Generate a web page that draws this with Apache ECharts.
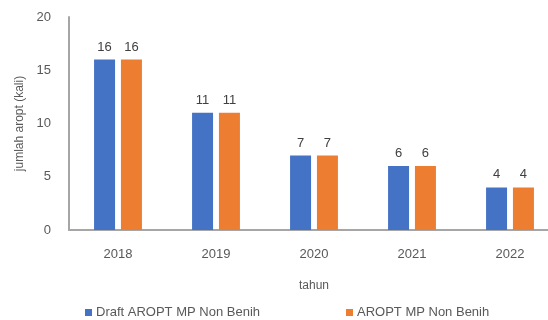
<!DOCTYPE html>
<html>
<head>
<meta charset="utf-8">
<script src="https://cdn.jsdelivr.net/npm/echarts@6/dist/echarts.min.js"></script>
<style>
  html, body { margin: 0; padding: 0; background: #ffffff; }
  #chart { width: 548px; height: 320px; }
</style>
</head>
<body>
<div id="chart"></div>
<script>
// Yearly counts of AROPT documents
const years = ['2018', '2019', '2020', '2021', '2022'];
const draftValues = [16, 11, 7, 6, 4];
const finalValues = [16, 11, 7, 6, 4];
const seriesNames = ['Draft AROPT MP Non Benih', 'AROPT MP Non Benih'];
const yTicks = [0, 5, 10, 15, 20];

const textColor = '#595959';
const fontFamily = 'Liberation Sans, Arial, sans-serif';

const chart = echarts.init(document.getElementById('chart'), null, { renderer: 'canvas' });

const labelStyle = {
  show: true,
  position: 'top',
  distance: 6,
  color: '#404040',
  fontSize: 13,
  fontFamily: fontFamily
};

const legendBase = {
  top: 301,
  itemWidth: 7,
  itemHeight: 7,
  itemGap: 6,
  icon: 'rect',
  textStyle: { color: textColor, fontSize: 13, fontFamily: fontFamily, padding: [0, 0, 0, -1] }
};

chart.setOption({
  animation: false,
  backgroundColor: '#ffffff',
  // plot band runs slightly past the right edge of the canvas
  grid: { left: 69, top: 17, width: 490, bottom: 90, outerBoundsMode: 'none', containLabel: false },
  legend: [
    Object.assign({}, legendBase, { left: 80, data: [seriesNames[0]] }),
    Object.assign({}, legendBase, { left: 341, data: [seriesNames[1]] })
  ],
  xAxis: {
    type: 'category',
    data: years,
    name: 'tahun',
    nameLocation: 'middle',
    nameGap: 50,
    nameTextStyle: { color: textColor, fontSize: 12, fontFamily: fontFamily },
    axisLine: { show: true, lineStyle: { color: '#a6a6a6', width: 2 } },
    axisTick: { show: false },
    axisLabel: { color: textColor, fontSize: 13, margin: 18, fontFamily: fontFamily }
  },
  yAxis: {
    type: 'value',
    min: yTicks[0],
    max: yTicks[yTicks.length - 1],
    interval: 5,
    name: 'jumlah aropt (kali)',
    nameLocation: 'middle',
    nameGap: 43,
    nameRotate: 90,
    nameTextStyle: { color: textColor, fontSize: 12, fontFamily: fontFamily },
    axisLine: { show: true, lineStyle: { color: '#a6a6a6', width: 2 } },
    axisTick: { show: false },
    splitLine: { show: false },
    axisLabel: { color: textColor, fontSize: 13, margin: 18, fontFamily: fontFamily }
  },
  series: [
    {
      name: seriesNames[0],
      type: 'bar',
      data: draftValues,
      barWidth: 21,
      barGap: '28%',
      itemStyle: { color: '#4472C4' },
      label: labelStyle
    },
    {
      name: seriesNames[1],
      type: 'bar',
      data: finalValues,
      barWidth: 21,
      itemStyle: { color: '#ED7D31' },
      label: labelStyle
    }
  ]
});
</script>
</body>
</html>
